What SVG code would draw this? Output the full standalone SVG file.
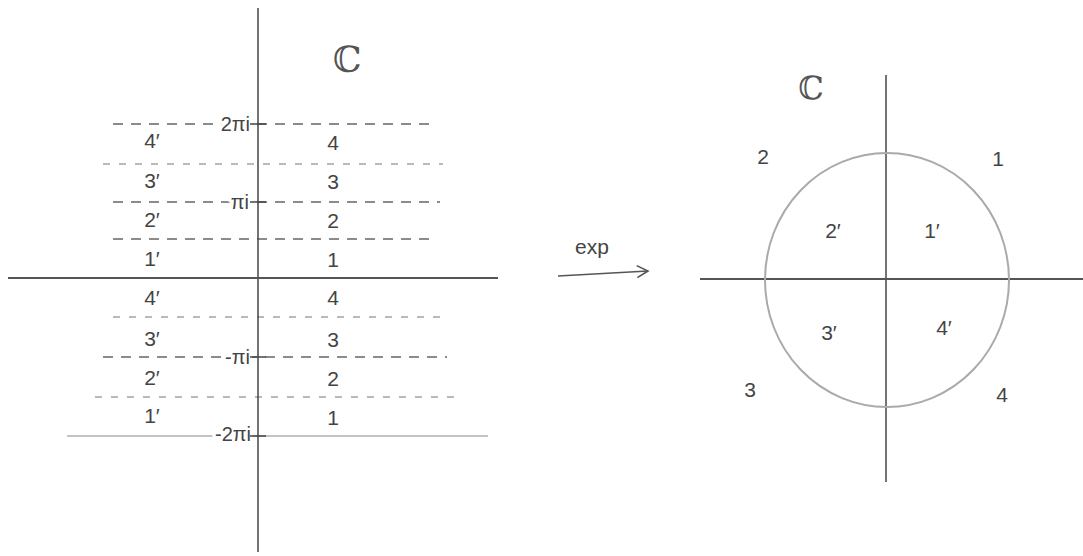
<svg xmlns="http://www.w3.org/2000/svg" width="1083" height="556" viewBox="0 0 1083 556">
<style>
.ax{stroke:#555;stroke-width:1.8;fill:none}
.axv{stroke:#444;stroke-width:1.5;fill:none}
.d{stroke:#666;stroke-width:1.3;fill:none;stroke-dasharray:10 8}
.d2{stroke:#777;stroke-width:1.2;fill:none;stroke-dasharray:7 9}
.s{stroke:#888;stroke-width:1.2;fill:none}
.t{font-family:"Liberation Sans",Arial,sans-serif;font-size:21px;fill:#444;text-anchor:middle}
.tl{font-family:"Liberation Sans",Arial,sans-serif;font-size:20px;fill:#444;text-anchor:end;stroke:#fff;stroke-width:7px;paint-order:stroke;stroke-linejoin:round}
.cc{font-family:"DejaVu Serif",serif;fill:#555;text-anchor:middle}
</style>
<defs>
<marker id="ah" markerWidth="16" markerHeight="16" refX="13" refY="8" orient="auto" markerUnits="userSpaceOnUse">
<path d="M2,2 L13,8 L2,14" fill="none" stroke="#555" stroke-width="1.6"/>
</marker>
</defs>
<rect width="1083" height="556" fill="#fff"/>
<g id="left-plane">
<line class="d" x1="113" y1="124" x2="437" y2="124"/>
<line class="d2" x1="103" y1="164" x2="443" y2="164"/>
<line class="d" x1="113" y1="202" x2="440" y2="202"/>
<line class="d" x1="113" y1="239" x2="437" y2="239"/>
<line class="d2" x1="113" y1="317" x2="447" y2="317"/>
<line class="d" x1="103" y1="357" x2="447" y2="357"/>
<line class="d2" x1="95" y1="397" x2="457" y2="397"/>
<line class="s" x1="67" y1="436" x2="488" y2="436"/>
<text class="tl" x="250" y="131">2πi</text>
<text class="tl" x="249" y="209">πi</text>
<text class="tl" x="250" y="364">-πi</text>
<text class="tl" x="251" y="441">-2πi</text>
<line class="axv" x1="258" y1="8" x2="258" y2="552"/>
<line class="ax" x1="8" y1="278" x2="498" y2="278"/>
<line class="axv" x1="250" y1="124" x2="266" y2="124"/>
<line class="axv" x1="250" y1="202" x2="266" y2="202"/>
<line class="axv" x1="250" y1="357" x2="266" y2="357"/>
<line class="axv" x1="250" y1="436" x2="266" y2="436"/>
<text class="cc" x="347" y="72" font-size="36">ℂ</text>
<text class="t" x="152" y="148">4′</text><text class="t" x="333" y="150">4</text>
<text class="t" x="152" y="188">3′</text><text class="t" x="333" y="189">3</text>
<text class="t" x="152" y="227">2′</text><text class="t" x="333" y="228">2</text>
<text class="t" x="152" y="266">1′</text><text class="t" x="333" y="267">1</text>
<text class="t" x="152" y="305">4′</text><text class="t" x="333" y="305">4</text>
<text class="t" x="152" y="346">3′</text><text class="t" x="333" y="347">3</text>
<text class="t" x="152" y="385">2′</text><text class="t" x="333" y="386">2</text>
<text class="t" x="152" y="423">1′</text><text class="t" x="333" y="425">1</text>
</g>
<g id="connectors">
<path d="M558,276 L648,271" stroke="#555" stroke-width="1.6" fill="none" marker-end="url(#ah)"/>
<text class="t" x="592" y="254" font-size="25">exp</text>
</g>
<g id="right-plane">
<line class="axv" x1="886" y1="75" x2="886" y2="482"/>
<line class="ax" x1="700" y1="279" x2="1083" y2="279"/>
<ellipse cx="887" cy="280" rx="122" ry="127" fill="none" stroke="#aaa" stroke-width="2"/>
<text class="cc" x="811" y="99" font-size="32">ℂ</text>
<text class="t" x="763" y="164" font-size="24">2</text>
<text class="t" x="998" y="166" font-size="24">1</text>
<text class="t" x="833" y="238">2′</text>
<text class="t" x="932" y="238">1′</text>
<text class="t" x="829" y="340">3′</text>
<text class="t" x="944" y="335">4′</text>
<text class="t" x="750" y="397" font-size="24">3</text>
<text class="t" x="1002" y="402" font-size="24">4</text>
</g>
</svg>
